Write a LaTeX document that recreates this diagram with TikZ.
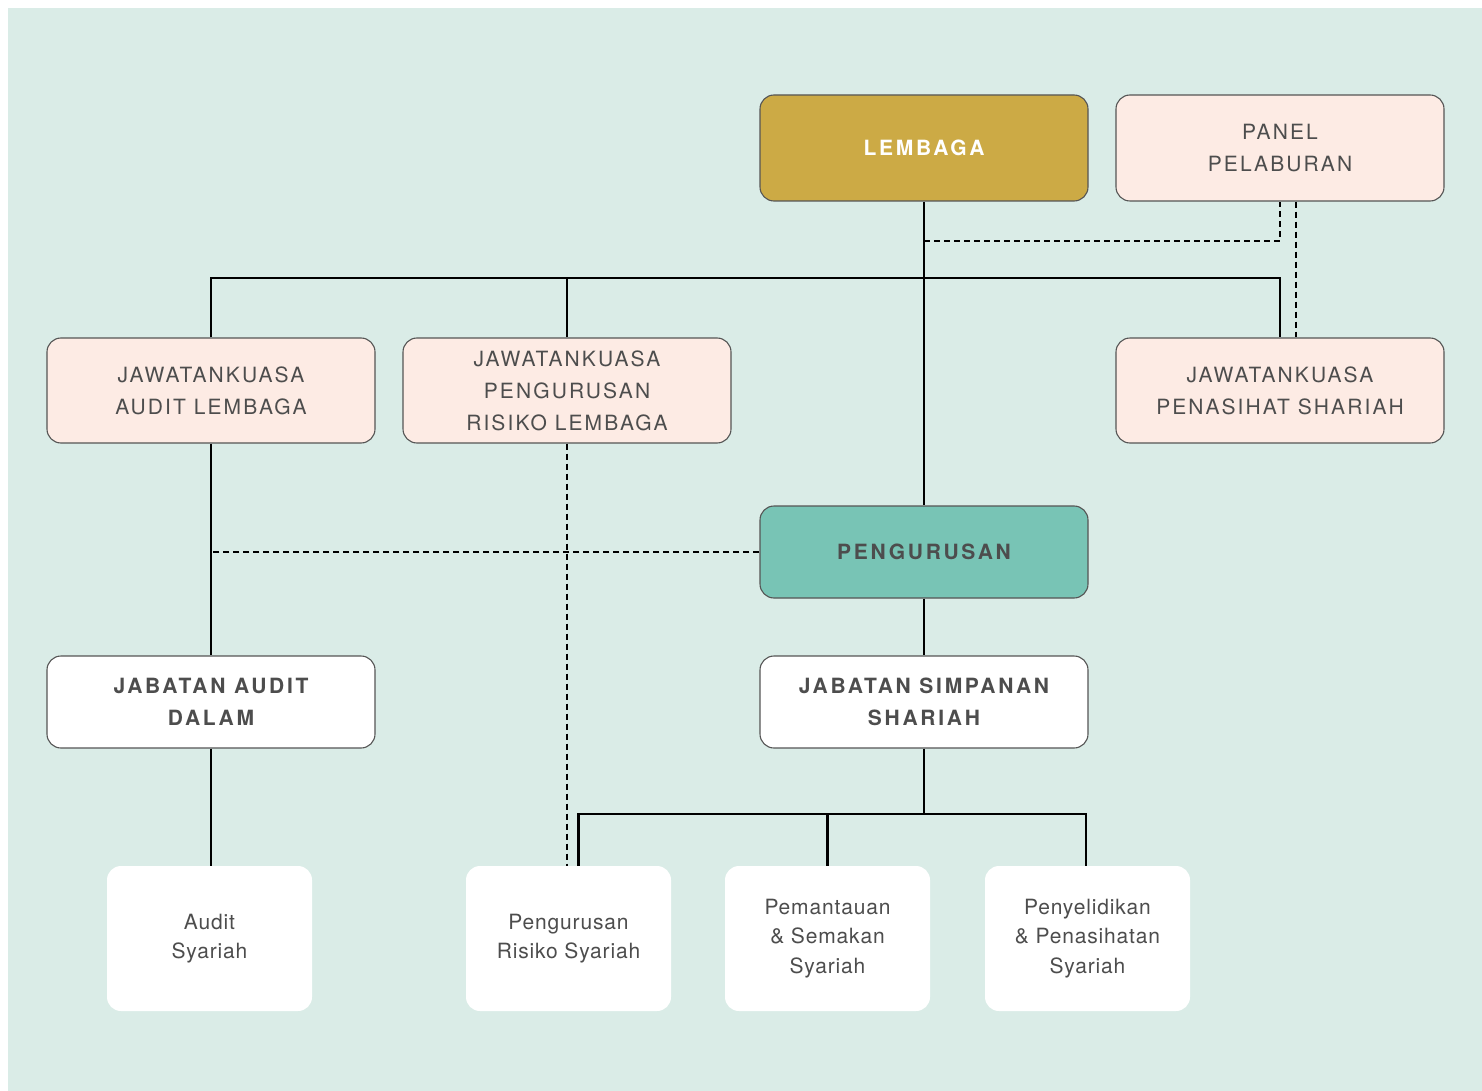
\documentclass[tikz,border=0pt]{standalone}
\usepackage{fontspec}
\usepackage{tikz}
\usetikzlibrary{positioning}

\setmainfont{TeX Gyre Heros}
\newfontfamily\capsfont[LetterSpace=10]{TeX Gyre Heros}
\newfontfamily\headfont[LetterSpace=13]{TeX Gyre Heros}
\newfontfamily\unitfont[LetterSpace=4]{TeX Gyre Heros}

\definecolor{bgcol}{HTML}{DAECE7}
\definecolor{goldcol}{HTML}{CCAA45}
\definecolor{pinkcol}{HTML}{FDEBE4}
\definecolor{tealcol}{HTML}{78C4B5}
\definecolor{txtgray}{HTML}{4D4D4D}
\definecolor{edgegray}{HTML}{555555}

\tikzset{
    box/.style={draw=edgegray, line width=1.1pt, rounded corners=14pt, minimum width=328pt,
        inner sep=0pt, align=center, text=txtgray, font={\capsfont\fontsize{21}{32}\selectfont}},
    committee/.style={box, fill=pinkcol, minimum height=105pt},
    dept/.style={box, fill=white, minimum height=92pt, font={\headfont\bfseries\fontsize{21}{32}\selectfont}},
    unit/.style={fill=white, rounded corners=14pt, minimum width=205pt, minimum height=145pt,
        inner sep=0pt, align=center, text=txtgray, font={\unitfont\fontsize{21}{29.5}\selectfont}},
    conn/.style={line width=2.8pt},
    dashline/.style={line width=1.3pt, dash pattern=on 6pt off 4pt}
}

\begin{document}
\begin{tikzpicture}[x=1pt, y=-1pt, node distance=100pt, on grid]
    \useasboundingbox (0,0) rectangle (1482,1091);
    \fill[bgcol] (8,8) rectangle (1482,1091);

    \node[box, fill=goldcol, minimum height=106pt, text=white,
        font={\headfont\bfseries\fontsize{21}{32}\selectfont}] (Lembaga) at (924,148) {LEMBAGA};
    \node[committee, minimum height=106pt, right=356pt of Lembaga] (Panel) {PANEL\\PELABURAN};
    \node[committee, below=242.5pt of Panel] (Shariah) {JAWATANKUASA\\PENASIHAT SHARIAH};
    \node[committee, left=713pt of Shariah] (Risiko) {JAWATANKUASA\\PENGURUSAN\\RISIKO LEMBAGA};
    \node[committee, left=356pt of Risiko] (Audit) {JAWATANKUASA\\AUDIT LEMBAGA};
    \node[dept, fill=tealcol, below=404pt of Lembaga] (Urus) {PENGURUSAN};
    \node[dept, below=150pt of Urus] (Simpanan) {JABATAN SIMPANAN\\SHARIAH};
    \node[dept, below=311.5pt of Audit] (AuditDalam) {JABATAN AUDIT\\DALAM};

    \node[unit, below=236.5pt of AuditDalam, xshift=-1.5pt] (AuditSy) {Audit\\Syariah};
    \node[unit, below=548pt of Risiko, xshift=1.5pt] (RisikoSy) {Pengurusan\\Risiko Syariah};
    \node[unit, right=259pt of RisikoSy] (Semakan) {Pemantauan\\\& Semakan\\Syariah};
    \node[unit, right=260pt of Semakan] (Penyelidikan) {Penyelidikan\\\& Penasihatan\\Syariah};

    \coordinate[below=130pt of Lembaga] (busTop);
    \coordinate[below=93pt of Lembaga] (panelJoin);
    \coordinate[below=112pt of Simpanan] (busLow);

    % solid reporting lines
    \draw[conn] (Lembaga) -- (Urus);
    \draw[conn] (Audit.north) |- (busTop) -| (Shariah.north);
    \draw[conn] (Risiko.north) -- (Risiko.north |- busTop);
    \draw[conn] (Urus) -- (Simpanan);
    \draw[conn] (Audit) -- (AuditDalam);
    \draw[conn] (AuditDalam.south) -- (AuditDalam.south |- AuditSy.north);
    \draw[conn] (Simpanan.south) -- (busLow);
    \draw[conn] ([xshift=10pt]RisikoSy.north) |- (busLow) -| ([xshift=-1.5pt]Penyelidikan.north);
    \draw[conn] (Semakan.north) -- (Semakan.north |- busLow);

    % dashed links
    \draw[dashline] (panelJoin) -| (Panel.south);
    \draw[dashline] ([xshift=16pt]Panel.south) -- ([xshift=16pt]Shariah.north);
    \draw[dashline] (Urus.west) -- (Urus.west -| Audit);
    \draw[dashline] (Risiko.south) -- (Risiko.south |- RisikoSy.north);
\end{tikzpicture}
\end{document}
